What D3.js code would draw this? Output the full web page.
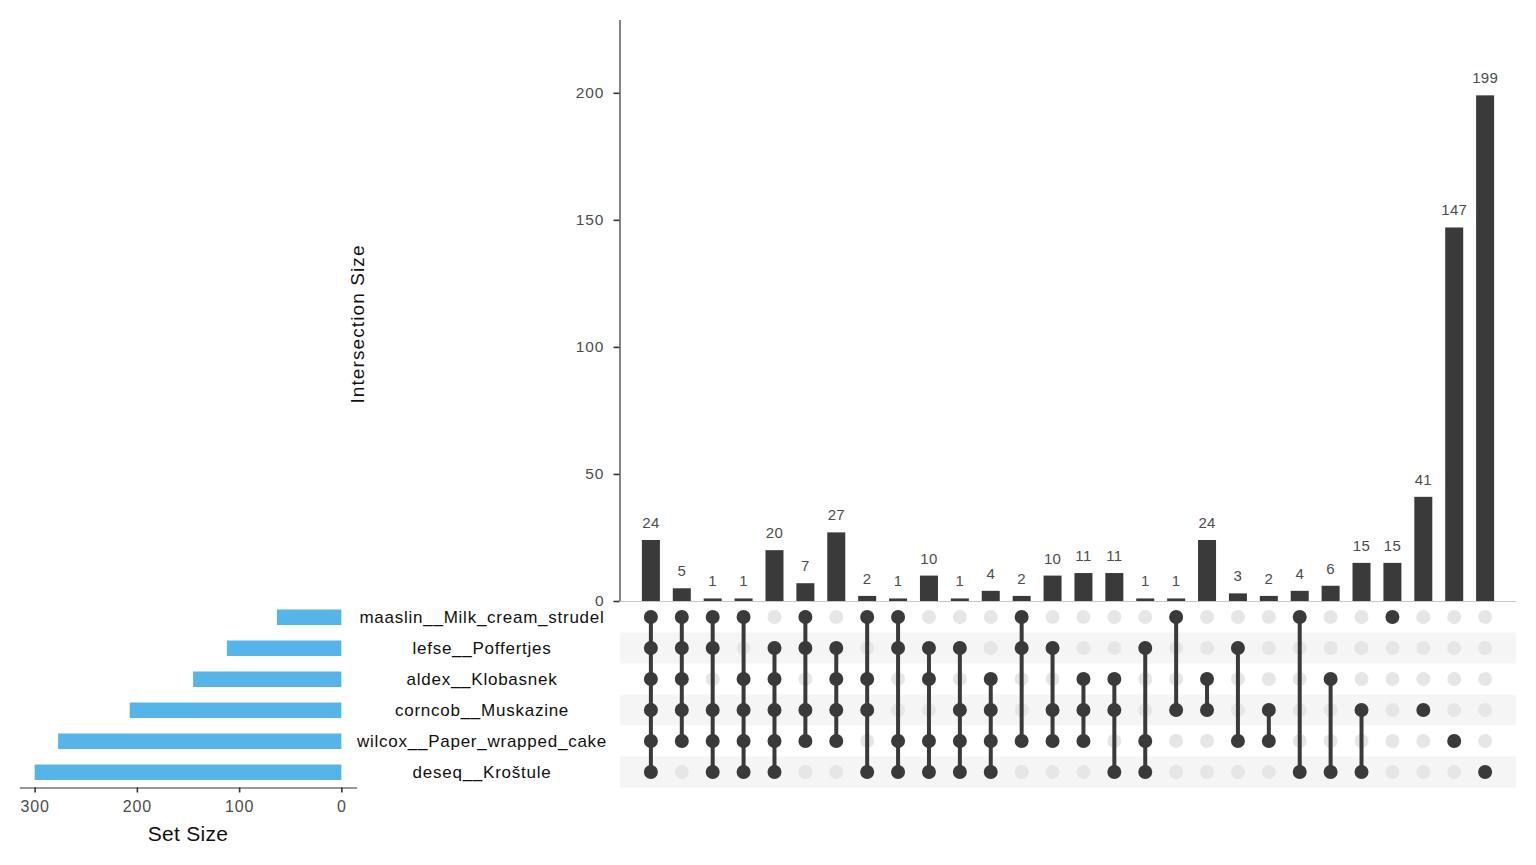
<!DOCTYPE html>
<html>
<head>
<meta charset="utf-8">
<script src="https://cdn.jsdelivr.net/npm/d3@7"></script>
<style>
  body { margin: 0; background: #fff; }
  svg { font-family: "Liberation Sans", Arial, sans-serif; }
</style>
</head>
<body>
<div id="root"></div>
<script>
// sets, top row first
const sets = [
  'maaslin__Milk_cream_strudel',
  'lefse__Poffertjes',
  'aldex__Klobasnek',
  'corncob__Muskazine',
  'wilcox__Paper_wrapped_cake',
  'deseq__Kroštule'
]
const setSizes = [63, 112, 145, 207, 277, 300]

// intersections, left to right: member set indices + size
const intersectionMembers = [
  [0, 1, 2, 3, 4, 5], [0, 1, 2, 3, 4], [0, 1, 3, 4, 5], [0, 2, 3, 4, 5],
  [1, 2, 3, 4, 5], [0, 1, 3, 4], [1, 2, 3, 4], [0, 2, 3, 5],
  [0, 1, 4, 5], [1, 2, 4, 5], [1, 3, 4, 5], [2, 3, 4, 5],
  [0, 1, 4], [1, 3, 4], [2, 3, 4], [2, 3, 5],
  [1, 4, 5], [0, 3], [2, 3], [1, 4],
  [3, 4], [0, 5], [2, 5], [3, 5],
  [0], [3], [4], [5]
]
const intersectionSizes = [
  24, 5, 1, 1, 20, 7, 27, 2, 1, 10, 1, 4, 2, 10,
  11, 11, 1, 1, 24, 3, 2, 4, 6, 15, 15, 41, 147, 199
]
const yTicks = [0, 50, 100, 150, 200]
const setTicks = [0, 100, 200, 300]

const W = 1536, H = 865
const dark = '#3a3a3a'
const textGrey = '#4d4d4d'
const font = 'Liberation Sans, Arial, sans-serif'

const svg = d3.select('#root').append('svg')
  .attr('width', W).attr('height', H)

const ids = intersectionSizes.map((d, i) => i)

// shared scales
const x = d3.scalePoint().domain(ids).range([620, 1516]).padding(1)
const row = d3.scaleBand().domain(d3.range(sets.length)).range([601.5, 787.5])
const y = d3.scaleLinear().domain([0, 199 * 1.15]).range([601, 19.5])
const sx = d3.scaleLinear().domain([-15, 315]).range([356.7, 19.3])

//
// intersection bars
const barW = 18
svg.append('g').selectAll('rect')
  .data(ids).join('rect')
  .attr('x', i => x(i) - barW / 2)
  .attr('width', barW)
  .attr('y', i => y(intersectionSizes[i]))
  .attr('height', i => y(0) - y(intersectionSizes[i]))
  .attr('fill', dark)

svg.append('g').selectAll('text')
  .data(ids).join('text')
  .attr('x', i => x(i))
  .attr('y', i => y(intersectionSizes[i]) - 12)
  .attr('text-anchor', 'middle')
  .attr('font-size', 15)
  .attr('letter-spacing', 0.3)
  .attr('fill', textGrey)
  .text(i => intersectionSizes[i])

const yAxis = svg.append('g')
  .attr('transform', 'translate(619.5,0)')
  .call(d3.axisLeft(y).tickValues(yTicks).tickSize(6).tickPadding(9).tickSizeOuter(0))
yAxis.select('.domain').attr('stroke', '#333').attr('stroke-width', 1.2)
yAxis.selectAll('.tick line').attr('stroke', '#333').attr('stroke-width', 1.6)
yAxis.selectAll('.tick text')
  .attr('font-size', 15.5).attr('letter-spacing', 1)
  .attr('fill', textGrey).attr('font-family', font)

svg.append('text')
  .attr('transform', 'translate(363.5,324) rotate(-90)')
  .attr('text-anchor', 'middle')
  .attr('font-size', 19)
  .attr('letter-spacing', 1.1)
  .attr('fill', '#111')
  .text('Intersection Size')

//
// matrix
svg.append('g').selectAll('rect')
  .data(d3.range(sets.length).filter(s => s % 2 === 1)).join('rect')
  .attr('x', 620).attr('width', 896)
  .attr('y', s => row(s)).attr('height', row.bandwidth())
  .attr('fill', '#f5f5f5')

svg.append('line')
  .attr('x1', 620).attr('x2', 1516)
  .attr('y1', 601.5).attr('y2', 601.5)
  .attr('stroke', '#c8c8c8')

const rc = s => row(s) + row.bandwidth() / 2

const cells = []
ids.forEach(i => sets.forEach((s, j) => {
  cells.push({ i, j, on: intersectionMembers[i].includes(j) })
}))

svg.append('g').selectAll('circle')
  .data(cells.filter(c => !c.on)).join('circle')
  .attr('cx', c => x(c.i)).attr('cy', c => rc(c.j))
  .attr('r', 7).attr('fill', '#e6e6e6')

svg.append('g').selectAll('line')
  .data(ids.filter(i => intersectionMembers[i].length > 1)).join('line')
  .attr('x1', i => x(i)).attr('x2', i => x(i))
  .attr('y1', i => rc(d3.min(intersectionMembers[i])))
  .attr('y2', i => rc(d3.max(intersectionMembers[i])))
  .attr('stroke', dark).attr('stroke-width', 4)

svg.append('g').selectAll('circle')
  .data(cells.filter(c => c.on)).join('circle')
  .attr('cx', c => x(c.i)).attr('cy', c => rc(c.j))
  .attr('r', 7).attr('fill', dark)

// set labels
svg.append('g').selectAll('text')
  .data(sets).join('text')
  .attr('x', 482)
  .attr('y', (s, j) => rc(j) + 6)
  .attr('text-anchor', 'middle')
  .attr('font-size', 17)
  .attr('letter-spacing', 0.75)
  .attr('fill', '#111')
  .text(s => s)

//
// set size bars
svg.append('g').selectAll('rect')
  .data(setSizes).join('rect')
  .attr('x', d => sx(d))
  .attr('width', d => sx(0) - sx(d))
  .attr('y', (d, j) => rc(j) - 7.5)
  .attr('height', 15.5)
  .attr('fill', '#56B4E9')

const sAxis = svg.append('g')
  .attr('transform', 'translate(0,787.5)')
  .call(d3.axisBottom(sx).tickValues(setTicks).tickSize(5).tickPadding(8).tickSizeOuter(0))
sAxis.select('.domain').attr('stroke', '#333').attr('stroke-width', 1.2)
sAxis.selectAll('.tick line').attr('stroke', '#333').attr('stroke-width', 1.6)
sAxis.selectAll('.tick text')
  .attr('font-size', 16).attr('letter-spacing', 0.8)
  .attr('fill', textGrey).attr('font-family', font)

svg.append('text')
  .attr('x', 188).attr('y', 840.5)
  .attr('text-anchor', 'middle')
  .attr('font-size', 21)
  .attr('letter-spacing', 0.3)
  .attr('fill', '#111')
  .text('Set Size')
</script>
</body>
</html>
